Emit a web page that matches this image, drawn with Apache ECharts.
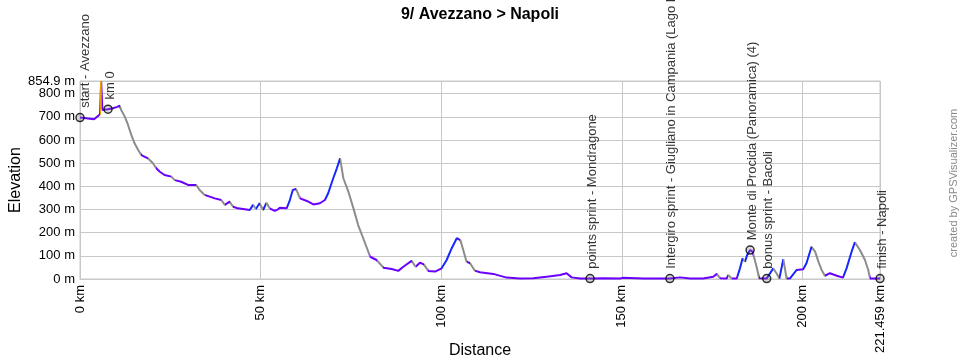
<!DOCTYPE html>
<html>
<head>
<meta charset="utf-8">
<script src="https://cdn.jsdelivr.net/npm/echarts@6/dist/echarts.min.js"></script>
<style>
html,body{margin:0;padding:0;background:#fff;}
#chart{width:960px;height:360px;}
</style>
</head>
<body>
<div id="chart"></div>
<script>
// Elevation profile (distance in km, elevation in m)
const distKm = [0, 3.9, 5.55, 5.85, 6.2, 7.75, 9.1, 10.3, 11.0, 11.4, 12.4, 13.3, 14.2, 15.1, 16.1, 17.0, 18.8, 20.2, 21.1, 22.1, 23.4, 25.3, 26.2, 28.0, 29.9, 32.2, 33.1, 34.5, 37.3, 39.1, 40.1, 41.4, 42.4, 43.7, 45.6, 47.0, 47.9, 48.7, 49.7, 50.7, 51.6, 52.5, 53.9, 54.8, 55.4, 57.2, 58.1, 58.9, 59.8, 60.9, 62.8, 64.6, 66.4, 67.8, 68.7, 70.1, 71.1, 72.0, 72.9, 74.3, 75.7, 77.0, 78.4, 79.8, 80.3, 82.1, 84.0, 86.3, 88.1, 89.5, 91.8, 92.9, 94.1, 95.2, 96.4, 98.3, 100.1, 101.5, 102.9, 104.3, 105.3, 107.0, 108.0, 109.3, 110.7, 114.4, 118.1, 121.8, 125.5, 129.2, 132.9, 134.7, 136.1, 138.4, 141.2, 145.0, 149.5, 150.2, 156.0, 160.0, 163.3, 166.1, 168.9, 172.5, 175.3, 176.3, 177.2, 179.0, 179.5, 180.4, 181.8, 182.7, 183.4, 184.1, 184.7, 185.5, 186.2, 187.3, 188.0, 190.1, 191.9, 192.8, 193.6, 194.7, 195.6, 196.5, 198.4, 200.2, 201.1, 202.5, 203.5, 204.4, 205.3, 206.2, 207.6, 209.5, 211.2, 212.2, 213.6, 214.5, 215.9, 217.3, 218.2, 218.7, 221.459];
const elevM = [697, 690, 711, 854.9, 730, 733, 737, 743, 748, 730, 701, 665, 622, 586, 557, 535, 521, 500, 478, 463, 449, 442, 427, 420, 406, 406, 384, 363, 348, 341, 320, 334, 312, 305, 301, 298, 320, 302, 327, 298, 329, 305, 294, 301, 308, 305, 341, 384, 389, 348, 337, 322, 327, 341, 370, 435, 478, 521, 435, 377, 305, 233, 176, 118, 96, 82, 49, 43, 35, 53, 78, 53, 70, 63, 35, 32, 46, 82, 133, 176, 168, 75, 68, 36, 29, 22, 6, 2, 3, 10, 17, 25, 7, 2, 2, 3, 2, 5, 2, 2, 2, 7, 2, 2, 10, 22, 3, 2, 17, 2, 2, 46, 89, 75, 104, 125, 118, 53, 3, 2, 46, 25, 2, 86, 2, 2, 39, 42, 68, 139, 118, 75, 39, 14, 25, 14, 6, 46, 118, 158, 125, 82, 39, 2, 2];

// Waypoints
const wpNames = ['start - Avezzano', 'km 0', 'points sprint - Mondragone', 'Intergiro sprint - Giugliano in Campania (Lago Patria)', 'Monte di Procida (Panoramica) (4)', 'bonus sprint - Bacoli', 'finish - Napoli'];
const wpKm = [0, 7.75, 141.2, 163.3, 185.5, 190.1, 221.459];
const wpElev = [697, 733, 2, 2, 125, 2, 2];

// Axis settings
const xMax = 221.459;
const yMax = 854.9;
const xStep = 50;
const yStep = 100;
const yTopLabel = [854.9];

const titleText = '9/ Avezzano > Napoli';
const creditText = 'created by GPSVisualizer.com';

function slopeColor(d1, e1, d2, e2) {
  const pct = (e2 - e1) / ((d2 - d1) * 1000) * 100;
  if (pct > 20) return '#e8a000';
  if (pct > 10) return '#00b4ff';
  if (pct > 1.5) return '#1428ff';
  if (pct >= -1.5) return '#6a00ff';
  return '#8c8c8c';
}

const pieces = [];
for (let i = 0; i < distKm.length - 1; i++) {
  pieces.push({
    gte: distKm[i],
    lt: (i === distKm.length - 2) ? distKm[i + 1] + 1 : distKm[i + 1],
    color: slopeColor(distKm[i], elevM[i], distKm[i + 1], elevM[i + 1])
  });
}

const lineData = distKm.map((d, i) => [d, elevM[i]]);
const wpData = wpKm.map((d, i) => {
  const item = { name: wpNames[i], value: [d, wpElev[i]] };
  if (i === 0) item.label = { offset: [0, 5] };
  return item;
});

const chart = echarts.init(document.getElementById('chart'), null, { renderer: 'canvas' });
const fontFam = '"Liberation Sans", Arial, sans-serif';

const yLabelBase = {
  margin: 5,
  fontFamily: fontFam, fontSize: 13, color: '#000',
  hideOverlap: false,
  formatter: v => v + ' m'
};

chart.setOption({
  animation: false,
  backgroundColor: '#ffffff',
  title: {
    text: titleText,
    left: 'center',
    top: 2,
    textStyle: { fontFamily: fontFam, fontSize: 16, fontWeight: 'bold', color: '#000' }
  },
  graphic: [{
    type: 'text',
    x: 954,
    y: 183,
    rotation: Math.PI / 2,
    style: {
      text: creditText,
      fill: '#8a8a8a',
      font: '11px ' + fontFam,
      align: 'center',
      verticalAlign: 'middle'
    }
  }],
  grid: {
    left: 80, right: 80, top: 81, bottom: 81,
    outerBoundsMode: 'none',
    containLabel: false,
    show: true, borderColor: '#c8c8c8', borderWidth: 1
  },
  xAxis: {
    type: 'value',
    min: 0, max: xMax, interval: xStep,
    name: 'Distance',
    nameLocation: 'middle',
    nameGap: 64,
    nameMoveOverlap: false,
    nameTextStyle: { fontFamily: fontFam, fontSize: 16, color: '#000' },
    axisLine: { show: true, lineStyle: { color: '#c8c8c8' } },
    axisTick: { show: false },
    splitLine: { show: true, lineStyle: { color: '#c8c8c8', width: 1 } },
    axisLabel: {
      rotate: 90, margin: 6,
      fontFamily: fontFam, fontSize: 13, color: '#000',
      showMinLabel: true, showMaxLabel: true, hideOverlap: false,
      formatter: v => v + ' km'
    }
  },
  yAxis: [{
    type: 'value',
    min: 0, max: yMax, interval: yStep,
    name: 'Elevation',
    nameLocation: 'middle',
    nameGap: 56,
    nameMoveOverlap: false,
    nameTextStyle: { fontFamily: fontFam, fontSize: 16, color: '#000' },
    axisLine: { show: true, lineStyle: { color: '#c8c8c8' } },
    axisTick: { show: false },
    splitLine: { show: true, lineStyle: { color: '#c8c8c8', width: 1 } },
    axisLabel: Object.assign({}, yLabelBase, { showMinLabel: true, showMaxLabel: false })
  }, {
    type: 'value',
    position: 'left',
    min: 0, max: yMax,
    axisLine: { show: false },
    axisTick: { show: false },
    splitLine: { show: false },
    axisLabel: Object.assign({}, yLabelBase, { customValues: yTopLabel, showMinLabel: false, showMaxLabel: true })
  }],
  visualMap: {
    show: false,
    type: 'piecewise',
    dimension: 0,
    seriesIndex: 0,
    pieces: pieces,
    outOfRange: { color: '#8c8c8c' }
  },
  series: [{
    type: 'line',
    data: lineData,
    showSymbol: false,
    lineStyle: { width: 2 },
    z: 2
  }, {
    type: 'scatter',
    data: wpData,
    symbol: 'circle',
    symbolSize: 8,
    itemStyle: { color: 'rgba(120,120,120,0.35)', borderColor: '#000', borderWidth: 1.5 },
    label: {
      show: true,
      formatter: '{b}',
      position: 'top',
      distance: 5,
      offset: [0, 2],
      rotate: 90,
      align: 'left',
      verticalAlign: 'middle',
      fontFamily: fontFam,
      fontSize: 13,
      color: '#000'
    },
    z: 5
  }]
});
</script>
</body>
</html>
